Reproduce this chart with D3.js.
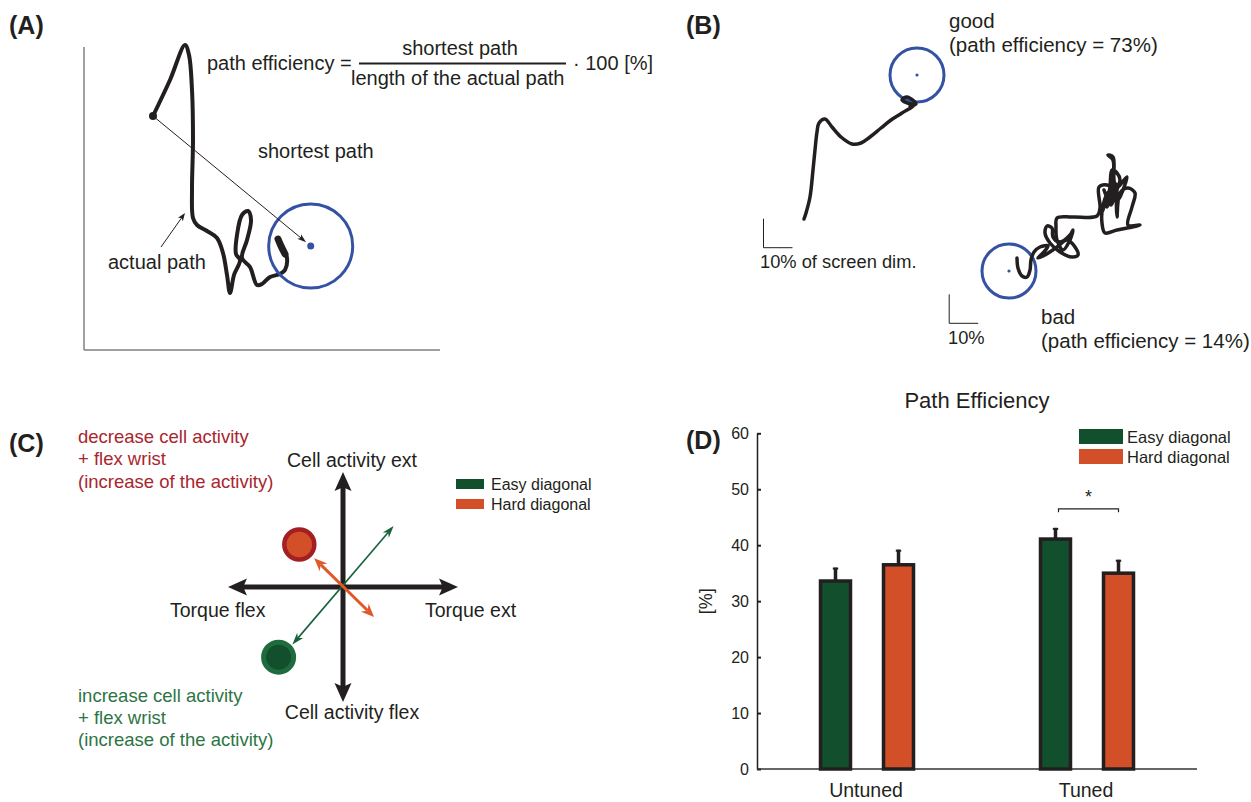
<!DOCTYPE html>
<html>
<head>
<meta charset="utf-8">
<script src="https://cdn.jsdelivr.net/npm/d3@7"></script>
<style>
body { margin: 0; background: #fff; }
svg { display: block; font-family: "Liberation Sans", Arial, sans-serif; }
</style>
</head>
<body>
<div id="chart"></div>
<script>
// ---------- Panel D: bar chart data ----------
var groups = ["Untuned", "Tuned"];
var conditions = ["Easy diagonal", "Hard diagonal"];
var easyMean = [33.6, 41.1];
var easyErr = [2.4, 2.0];
var hardMean = [36.5, 35.0];
var hardErr = [2.7, 2.4];
var yTicks = [0, 10, 20, 30, 40, 50, 60];
var condColors = ["#114f2d", "#d24f27"];

// ---------- Panel A: example trajectory (panel units, y up from axis origin) ----------
var pathA = [[69,234],[86,270],[101,305],[105,295],[108,260],[109,210],[108,160],[109,132],
  [113,125],[123,119],[133,112],[139,97],[143,75],[146,57],[150,75],[156,90],[152,96],
  [153,115],[158,135],[164,139],[167,130],[163,110],[158,92],[166,83],[173,65],[178,66],
  [186,73],[196,76],[201,80],[203,92],[199,102],[194,111]];
var blobA = [[194,111],[197,104],[201,96]];
var startA = [69, 234];
var targetA = [226.7, 104];
var labelArrowA = [[77, 103], [101, 137]];

// ---------- Panel B: good / bad trajectories (panel units, px from panel left) ----------
var goodPath = [[124,219],[126,213],[130,197],[133,170],[135,150],[137,132],[139,123],[145,119],
  [152,127],[161,137],[172,144],[181,143],[190,137],[201,128],[211,120],[222,113],[234,105],
  [227,103],[222,100],[227,97],[236,104],[230,106]];
var badPath = [[337,258],[338,268],[342,276],[347,277],[350,270],[351,260],[354,252],[360,247],
  [368,246],[363,253],[358,258],[365,255],[377,247],[387,240],[395,247],[398,255],[392,257],
  [380,252],[370,243],[365,233],[367,226],[372,228],[373,237],[380,242],[390,235],[393,230],
  [390,240],[383,250],[377,240],[376,227],[377,218],[393,217],[417,216],[420,208],[419,187],
  [427,185],[433,190],[423,207],[422,223],[425,233],[437,230],[460,225],[448,225],[452,207],
  [455,193],[448,188],[440,193],[437,217],[437,190],[440,180],[437,173],[432,170],[430,187],
  [427,207],[432,193],[433,180],[433,160],[428,155],[433,157],[434,180],[438,200],[443,190],
  [447,177],[440,185],[428,198],[422,212],[426,196],[436,184],[431,205],[424,190]];
var goodTarget = [237, 75];
var badTarget = [329, 271];
var scaleBars = [[83.5, 247.7], [269.2, 323.3]];

// ---------- Panel C: schematic (unit square, origin at centre) ----------
var easyArrow = [[-0.44, -0.50], [0.44, 0.53]];
var hardArrow = [[-0.25, 0.25], [0.27, -0.26]];
var redTarget = [-0.38, 0.37];
var greenTarget = [-0.56, -0.61];

var ink = "#231f20";
var W = 1251, H = 802;

var svg = d3.select("#chart").append("svg")
    .attr("width", W)
    .attr("height", H);
svg.append("rect").attr("width", W).attr("height", H).attr("fill", "#fff");

// arrow helper: shaft + filled heads, computed from the two end points
function drawArrow(g, p1, p2, o) {
    var dx = p2[0] - p1[0], dy = p2[1] - p1[1];
    var len = Math.sqrt(dx * dx + dy * dy);
    var ux = dx / len, uy = dy / len, nx = -uy, ny = ux;
    var inset = o.headLen * 0.7;
    var a = o.both ? [p1[0] + ux * inset, p1[1] + uy * inset] : p1;
    var b = [p2[0] - ux * inset, p2[1] - uy * inset];
    g.append("line")
        .attr("x1", a[0]).attr("y1", a[1]).attr("x2", b[0]).attr("y2", b[1])
        .attr("stroke", o.color).attr("stroke-width", o.width);
    function head(tip, sx, sy) {
        var back = [tip[0] - sx * o.headLen, tip[1] - sy * o.headLen];
        var notch = [tip[0] - sx * o.headLen * o.notch, tip[1] - sy * o.headLen * o.notch];
        var pts = [tip,
            [back[0] + nx * o.headW / 2, back[1] + ny * o.headW / 2],
            notch,
            [back[0] - nx * o.headW / 2, back[1] - ny * o.headW / 2]];
        g.append("path").attr("d", "M" + pts.join("L") + "Z").attr("fill", o.color);
    }
    head(p2, ux, uy);
    if (o.both) head(p1, -ux, -uy);
}

function panelLabel(x, y, t) {
    svg.append("text").attr("x", x).attr("y", y)
        .attr("font-size", 25).attr("font-weight", "bold").attr("fill", ink).text(t);
}

// ================= Panel A =================
var gA = svg.append("g");
var ax = d3.scaleLinear().domain([0, 356]).range([84, 440]);
var ay = d3.scaleLinear().domain([0, 303]).range([350, 47]);
panelLabel(9, 34, "(A)");

gA.append("line").attr("x1", ax(0)).attr("y1", ay(303)).attr("x2", ax(0)).attr("y2", ay(0))
    .attr("stroke", "#808080").attr("stroke-width", 1.5);
gA.append("line").attr("x1", ax(0)).attr("y1", ay(0)).attr("x2", ax(356)).attr("y2", ay(0))
    .attr("stroke", "#808080").attr("stroke-width", 1.5);

var lineA = d3.line().x(function(d) { return ax(d[0]); }).y(function(d) { return ay(d[1]); })
    .curve(d3.curveCatmullRom.alpha(0.5));
gA.append("path").attr("d", lineA(pathA)).attr("fill", "none").attr("stroke", ink)
    .attr("stroke-width", 4).attr("stroke-linejoin", "round").attr("stroke-linecap", "round");
gA.append("path").attr("d", lineA(blobA)).attr("fill", "none").attr("stroke", ink)
    .attr("stroke-width", 7).attr("stroke-linecap", "round");

gA.append("circle").attr("cx", ax(targetA[0])).attr("cy", ay(targetA[1])).attr("r", 42)
    .attr("fill", "none").attr("stroke", "#3452a4").attr("stroke-width", 3);
gA.append("circle").attr("cx", ax(targetA[0])).attr("cy", ay(targetA[1])).attr("r", 3.5)
    .attr("fill", "#3452a4");
gA.append("circle").attr("cx", ax(startA[0])).attr("cy", ay(startA[1])).attr("r", 4).attr("fill", ink);

// shortest path arrow
(function() {
    var p1 = [ax(startA[0]), ay(startA[1])], c = [ax(targetA[0]), ay(targetA[1])];
    var dx = c[0] - p1[0], dy = c[1] - p1[1], l = Math.sqrt(dx * dx + dy * dy);
    var p2 = [c[0] - dx / l * 6, c[1] - dy / l * 6];
    drawArrow(gA, p1, p2, {color: ink, width: 1, headLen: 9, headW: 6, notch: 0.75, both: false});
})();
drawArrow(gA, [ax(labelArrowA[0][0]), ay(labelArrowA[0][1])], [ax(labelArrowA[1][0]), ay(labelArrowA[1][1])],
    {color: ink, width: 1, headLen: 8, headW: 6, notch: 0.75, both: false});

gA.append("text").attr("x", 207).attr("y", 70).attr("font-size", 20).attr("fill", ink).text("path efficiency =");
gA.append("text").attr("x", 460).attr("y", 55).attr("font-size", 20).attr("fill", ink)
    .attr("text-anchor", "middle").text("shortest path");
gA.append("line").attr("x1", 359).attr("x2", 566).attr("y1", 63.5).attr("y2", 63.5)
    .attr("stroke", ink).attr("stroke-width", 1.8);
gA.append("text").attr("x", 351).attr("y", 85).attr("font-size", 20).attr("fill", ink).text("length of the actual path");
gA.append("text").attr("x", 573).attr("y", 70).attr("font-size", 20).attr("fill", ink).text("\u00b7 100 [%]");
gA.append("text").attr("x", 258).attr("y", 158).attr("font-size", 20).attr("fill", ink).text("shortest path");
gA.append("text").attr("x", 108).attr("y", 269).attr("font-size", 20).attr("fill", ink).text("actual path");

// ================= Panel B =================
var gB = svg.append("g");
var bx = d3.scaleLinear().domain([0, 571]).range([680, 1251]);
var by = d3.scaleLinear().domain([0, 360]).range([0, 360]);
panelLabel(686, 34, "(B)");
var lineB = d3.line().x(function(d) { return bx(d[0]); }).y(function(d) { return by(d[1]); })
    .curve(d3.curveCatmullRom.alpha(0.5));

[goodTarget, badTarget].forEach(function(t) {
    gB.append("circle").attr("cx", bx(t[0])).attr("cy", by(t[1])).attr("r", 27)
        .attr("fill", "none").attr("stroke", "#3452a4").attr("stroke-width", 3);
    gB.append("circle").attr("cx", bx(t[0])).attr("cy", by(t[1])).attr("r", 1.6).attr("fill", "#3452a4");
});
[goodPath, badPath].forEach(function(p) {
    gB.append("path").attr("d", lineB(p)).attr("fill", "none").attr("stroke", ink)
        .attr("stroke-width", 3.5).attr("stroke-linejoin", "round").attr("stroke-linecap", "round");
});
scaleBars.forEach(function(s) {
    gB.append("path")
        .attr("d", "M" + bx(s[0]) + "," + by(s[1] - 29) + "V" + by(s[1]) + "H" + bx(s[0] + 29))
        .attr("fill", "none").attr("stroke", ink).attr("stroke-width", 1);
});
gB.append("text").attr("x", 949).attr("y", 28).attr("font-size", 20.5).attr("fill", ink).text("good");
gB.append("text").attr("x", 949).attr("y", 52).attr("font-size", 20.5).attr("fill", ink).text("(path efficiency = 73%)");
gB.append("text").attr("x", 760).attr("y", 268).attr("font-size", 18.3).attr("fill", ink).text("10% of screen dim.");
gB.append("text").attr("x", 948).attr("y", 344).attr("font-size", 18.3).attr("fill", ink).text("10%");
gB.append("text").attr("x", 1041).attr("y", 324).attr("font-size", 20.5).attr("fill", ink).text("bad");
gB.append("text").attr("x", 1041).attr("y", 348).attr("font-size", 20.5).attr("fill", ink).text("(path efficiency = 14%)");

// ================= Panel C =================
var gC = svg.append("g");
var cx = d3.scaleLinear().domain([-1, 1]).range([228, 458]);
var cy = d3.scaleLinear().domain([-1, 1]).range([702, 472]);
panelLabel(9, 452, "(C)");

drawArrow(gC, [cx(0), cy(-1)], [cx(0), cy(1)], {color: ink, width: 5, headLen: 19, headW: 17, notch: 0.8, both: true});
drawArrow(gC, [cx(-1), cy(0)], [cx(1), cy(0)], {color: ink, width: 5, headLen: 19, headW: 17, notch: 0.8, both: true});

gC.append("circle").attr("cx", cx(redTarget[0])).attr("cy", cy(redTarget[1])).attr("r", 15)
    .attr("fill", "#d24f27").attr("stroke", "#a31f24").attr("stroke-width", 4.5);
gC.append("circle").attr("cx", cx(greenTarget[0])).attr("cy", cy(greenTarget[1])).attr("r", 15)
    .attr("fill", "#114f2d").attr("stroke", "#1f6b3d").attr("stroke-width", 5);

drawArrow(gC, [cx(easyArrow[0][0]), cy(easyArrow[0][1])], [cx(easyArrow[1][0]), cy(easyArrow[1][1])],
    {color: "#17613a", width: 1.6, headLen: 12, headW: 8, notch: 0.7, both: true});
drawArrow(gC, [cx(hardArrow[0][0]), cy(hardArrow[0][1])], [cx(hardArrow[1][0]), cy(hardArrow[1][1])],
    {color: "#e0592a", width: 3, headLen: 13, headW: 11, notch: 0.7, both: true});

gC.append("text").attr("x", cx(0) + 9).attr("y", 467).attr("text-anchor", "middle")
    .attr("font-size", 19.5).attr("fill", ink).text("Cell activity ext");
gC.append("text").attr("x", cx(0) + 9).attr("y", 719).attr("text-anchor", "middle")
    .attr("font-size", 19.5).attr("fill", ink).text("Cell activity flex");
gC.append("text").attr("x", 170).attr("y", 617).attr("font-size", 19.5).attr("fill", ink).text("Torque flex");
gC.append("text").attr("x", 425).attr("y", 617).attr("font-size", 19.5).attr("fill", ink).text("Torque ext");

var redLines = ["decrease cell activity", "+ flex wrist", "(increase of the activity)"];
var greenLines = ["increase cell activity", "+ flex wrist", "(increase of the activity)"];
redLines.forEach(function(t, i) {
    gC.append("text").attr("x", 78).attr("y", 443 + i * 22.3).attr("font-size", 18.5)
        .attr("fill", "#a8262d").text(t);
});
greenLines.forEach(function(t, i) {
    gC.append("text").attr("x", 78).attr("y", 701.5 + i * 22.3).attr("font-size", 18.5)
        .attr("fill", "#2d7445").text(t);
});
conditions.forEach(function(c, i) {
    gC.append("rect").attr("x", 456).attr("y", 479 + i * 20).attr("width", 28).attr("height", 10)
        .attr("fill", condColors[i]);
    gC.append("text").attr("x", 491).attr("y", 490 + i * 19.5).attr("font-size", 16)
        .attr("fill", ink).text(c);
});

// ================= Panel D =================
var gD = svg.append("g");
panelLabel(686, 449, "(D)");

var x0 = d3.scaleBand().domain(groups).range([757, 1197]).padding(0);
var x1 = d3.scaleBand().domain(conditions).range([63.5, 156.5]).paddingInner(0.524);
var y = d3.scaleLinear().domain([0, 60]).range([769, 433.3]);

var yAxis = d3.axisLeft(y).tickValues(yTicks).tickSize(-4).tickSizeOuter(0).tickPadding(8);
var yg = gD.append("g").attr("transform", "translate(757,0)").call(yAxis);
yg.select(".domain").attr("stroke", ink).attr("stroke-width", 1.5);
yg.selectAll(".tick line").attr("stroke", ink).attr("stroke-width", 2);
yg.selectAll(".tick text").attr("font-size", 16).attr("fill", ink)
    .attr("font-family", "Liberation Sans, Arial, sans-serif");

gD.append("line").attr("x1", 757).attr("x2", 1197).attr("y1", y(0)).attr("y2", y(0))
    .attr("stroke", "#333").attr("stroke-width", 1.5);

var barData = [];
groups.forEach(function(g, gi) {
    barData.push({group: g, cond: conditions[0], mean: easyMean[gi], err: easyErr[gi], color: condColors[0]});
    barData.push({group: g, cond: conditions[1], mean: hardMean[gi], err: hardErr[gi], color: condColors[1]});
});

gD.selectAll(".err").data(barData).enter().append("line")
    .attr("class", "err")
    .attr("x1", function(d) { return x0(d.group) + x1(d.cond) + x1.bandwidth() / 2; })
    .attr("x2", function(d) { return x0(d.group) + x1(d.cond) + x1.bandwidth() / 2; })
    .attr("y1", function(d) { return y(d.mean); })
    .attr("y2", function(d) { return y(d.mean + d.err); })
    .attr("stroke", ink).attr("stroke-width", 3.5);
gD.selectAll(".cap").data(barData).enter().append("line")
    .attr("class", "cap")
    .attr("x1", function(d) { return x0(d.group) + x1(d.cond) + x1.bandwidth() / 2 - 2.7; })
    .attr("x2", function(d) { return x0(d.group) + x1(d.cond) + x1.bandwidth() / 2 + 2.7; })
    .attr("y1", function(d) { return y(d.mean + d.err) + 1; })
    .attr("y2", function(d) { return y(d.mean + d.err) + 1; })
    .attr("stroke", ink).attr("stroke-width", 2);

gD.selectAll(".bar").data(barData).enter().append("rect")
    .attr("class", "bar")
    .attr("x", function(d) { return x0(d.group) + x1(d.cond); })
    .attr("width", x1.bandwidth())
    .attr("y", function(d) { return y(d.mean); })
    .attr("height", function(d) { return y(0) - y(d.mean); })
    .attr("fill", function(d) { return d.color; })
    .attr("stroke", ink).attr("stroke-width", 3.5);

groups.forEach(function(g) {
    gD.append("text").attr("x", x0(g) + x0.bandwidth() / 2 - 1).attr("y", 797)
        .attr("text-anchor", "middle").attr("font-size", 19.5).attr("fill", ink).text(g);
});

// significance bracket on the Tuned pair
var bL = x0("Tuned") + x1(conditions[0]) + x1.bandwidth() / 2 + 3;
var bR = x0("Tuned") + x1(conditions[1]) + x1.bandwidth() / 2;
gD.append("path")
    .attr("d", "M" + bL + "," + (y(46.5) + 3.5) + "V" + y(46.5) + "H" + bR + "V" + (y(46.5) + 3.5))
    .attr("fill", "none").attr("stroke", ink).attr("stroke-width", 1.2);
gD.append("text").attr("x", (bL + bR) / 2).attr("y", 503).attr("text-anchor", "middle")
    .attr("font-size", 18).attr("fill", ink).text("*");

gD.append("text").attr("x", (x0.range()[0] + x0.range()[1]) / 2).attr("y", 408)
    .attr("text-anchor", "middle").attr("font-size", 22).attr("fill", ink).text("Path Efficiency");
gD.append("text").attr("transform", "translate(712," + y(30) + ") rotate(-90)")
    .attr("text-anchor", "middle").attr("font-size", 18).attr("fill", ink).text("[%]");

conditions.forEach(function(c, i) {
    gD.append("rect").attr("x", 1079).attr("y", 429 + i * 20).attr("width", 44).attr("height", 15)
        .attr("fill", condColors[i]);
    gD.append("text").attr("x", 1127).attr("y", 442.5 + i * 20).attr("font-size", 16.5)
        .attr("fill", ink).text(c);
});
</script>
</body>
</html>
